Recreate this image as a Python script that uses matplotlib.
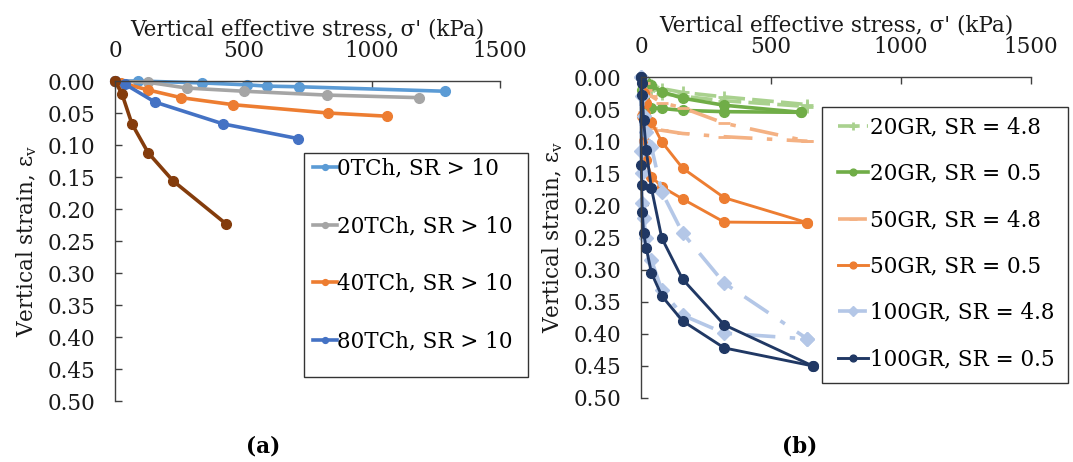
import matplotlib
matplotlib.use("Agg")
import matplotlib.pyplot as plt
from matplotlib.patches import Rectangle

# ---------------- data: panel (a) ----------------
a_labels = ["0TCh, SR > 10", "20TCh, SR > 10", "40TCh, SR > 10", "80TCh, SR > 10", "brown"]
a0_x = [0, 90, 339, 514, 592, 717, 1286]
a0_y = [0, 0.0, 0.003, 0.006, 0.008, 0.009, 0.016]
a20_x = [0, 129, 280, 503, 826, 1184]
a20_y = [0, 0.002, 0.011, 0.016, 0.022, 0.026]
a40_x = [0, 25, 129, 257, 460, 830, 1060]
a40_y = [0, 0.003, 0.014, 0.026, 0.037, 0.050, 0.055]
a80_x = [0, 39, 156, 421, 713]
a80_y = [0, 0.005, 0.033, 0.067, 0.090]
abr_x = [0, 27, 66, 129, 226, 432]
abr_y = [0, 0.020, 0.067, 0.112, 0.156, 0.223]

# ---------------- data: panel (b) ----------------
b_labels = ["20GR, SR = 4.8", "20GR, SR = 0.5", "50GR, SR = 4.8",
            "50GR, SR = 0.5", "100GR, SR = 4.8", "100GR, SR = 0.5"]
g20_48a_x = [0, 10, 20, 40, 80, 160, 320, 640]
g20_48a_y = [0, 0.005, 0.009, 0.013, 0.018, 0.024, 0.031, 0.043]
g20_48b_x = [0, 10, 20, 40, 80, 160, 320, 640]
g20_48b_y = [0, 0.010, 0.016, 0.020, 0.026, 0.030, 0.037, 0.046]
g20_05a_x = [0, 10, 20, 40, 80, 160, 320, 615]
g20_05a_y = [0, 0.004, 0.008, 0.013, 0.023, 0.033, 0.044, 0.055]
g20_05b_x = [0, 5, 10, 20, 40, 80, 160, 320, 615]
g20_05b_y = [0, 0.020, 0.035, 0.045, 0.048, 0.049, 0.052, 0.054, 0.055]
g50_48a_x = [0, 10, 20, 40, 80, 160, 320, 640]
g50_48a_y = [0, 0.010, 0.020, 0.030, 0.040, 0.048, 0.072, 0.100]
g50_48b_x = [0, 5, 10, 20, 40, 80, 160, 320, 640]
g50_48b_y = [0, 0.030, 0.055, 0.070, 0.080, 0.083, 0.088, 0.093, 0.100]
g50_05a_x = [0, 10, 20, 40, 80, 160, 320, 640]
g50_05a_y = [0, 0.025, 0.040, 0.070, 0.101, 0.142, 0.188, 0.227]
g50_05b_x = [0, 5, 10, 20, 40, 80, 160, 320, 640]
g50_05b_y = [0, 0.060, 0.100, 0.130, 0.155, 0.171, 0.190, 0.226, 0.227]
g100_48a_x = [0, 5, 10, 20, 40, 80, 160, 320, 640]
g100_48a_y = [0, 0.030, 0.060, 0.085, 0.109, 0.179, 0.243, 0.321, 0.408]
g100_48b_x = [0, 1.25, 2.5, 5, 10, 20, 40, 80, 160, 320, 640]
g100_48b_y = [0, 0.115, 0.150, 0.196, 0.220, 0.251, 0.285, 0.332, 0.371, 0.399, 0.408]
g100_05a_x = [0, 2.5, 5, 10, 20, 40, 80, 160, 320, 660]
g100_05a_y = [0, 0.009, 0.028, 0.067, 0.114, 0.173, 0.251, 0.315, 0.386, 0.450]
g100_05b_x = [0, 1.25, 2.5, 5, 10, 20, 40, 80, 160, 320, 660]
g100_05b_y = [0, 0.137, 0.168, 0.210, 0.243, 0.266, 0.305, 0.341, 0.380, 0.422, 0.450]

x_ticks = [0, 500, 1000, 1500]
y_ticks = [0.00, 0.05, 0.10, 0.15, 0.20, 0.25, 0.30, 0.35, 0.40, 0.45, 0.50]

plt.rcParams['font.family'] = ['DejaVu Serif']
FS = 15.5
W, H = 1073, 462
fig = plt.figure(figsize=(W / 100, H / 100), dpi=100)


def fx(px):
    return px / W


def fy(py):
    return 1 - py / H


def make_axes(l, r, t, b):
    ax = fig.add_axes([fx(l), fy(b), fx(r) - fx(l), fy(t) - fy(b)])
    ax.set_xlim(0, 1500)
    ax.set_ylim(0.5, 0.0)
    ax.set_xticks(x_ticks)
    ax.set_yticks(y_ticks)
    ax.set_yticklabels([f"{v:.2f}" for v in y_ticks])
    ax.xaxis.tick_top()
    ax.xaxis.set_label_position('top')
    for s in ['right', 'bottom']:
        ax.spines[s].set_visible(False)
    for s in ['left', 'top']:
        ax.spines[s].set_color('#404040')
        ax.spines[s].set_linewidth(1.0)
    ax.tick_params(axis='both', direction='in', length=5, width=1.0,
                   color='#404040', labelsize=FS, labelcolor='#1a1a1a')
    ax.tick_params(axis='x', pad=14)
    ax.tick_params(axis='y', pad=14)
    ax.set_xlabel("Vertical effective stress, σ' (kPa)", fontsize=FS, labelpad=3, color='#1a1a1a')
    ax.set_ylabel("Vertical strain, ε$_\\mathregular{v}$", fontsize=FS, labelpad=6, color='#1a1a1a')
    ax.patch.set_alpha(0)
    return ax


def frame(l, t, r, b):
    fig.patches.append(Rectangle((fx(l), fy(b)), fx(r) - fx(l), fy(t) - fy(b),
                                 transform=fig.transFigure, fill=True, facecolor='white',
                                 edgecolor='#333333', lw=1.0, zorder=5))


LW = 2.6
MS = 7

# ---------------- panel (a) ----------------
axa = make_axes(115, 500, 81, 401)
axa.plot(a0_x, a0_y, '-o', color='#5B9BD5', lw=LW, ms=MS, label=a_labels[0])
axa.plot(a20_x, a20_y, '-o', color='#A5A5A5', lw=LW, ms=MS, label=a_labels[1])
axa.plot(a40_x, a40_y, '-o', color='#ED7D31', lw=LW, ms=MS, label=a_labels[2])
axa.plot(a80_x, a80_y, '-o', color='#4472C4', lw=LW, ms=MS, label=a_labels[3])
axa.plot(abr_x, abr_y, '-o', color='#843C0C', lw=LW, ms=MS)
for l in axa.lines:
    l.set_clip_on(False)
frame(304, 153, 528, 377)
h, lab = axa.get_legend_handles_labels()
leg = fig.legend(h, lab, loc='upper left', bbox_to_anchor=(fx(305), fy(150)),
                 fontsize=FS, frameon=False,
                 handlelength=1.15, handletextpad=0.0, labelspacing=1.65,
                 borderpad=0.35, borderaxespad=0, markerscale=0.6)
leg.set_zorder(6)

# ---------------- panel (b) ----------------
axb = make_axes(641, 1031, 77, 398)
lg, dg, sa, og, lb, nv = '#A9D18E', '#70AD47', '#F4B183', '#ED7D31', '#B4C7E7', '#203864'
axb.plot(g20_48a_x, g20_48a_y, color=lg, ls=(0, (6, 2)), lw=LW, marker='+', ms=9, mew=2, label=b_labels[0])
axb.plot(g20_48b_x, g20_48b_y, color=lg, ls=(0, (6, 2)), lw=LW, marker='+', ms=9, mew=2)
axb.plot(g20_05a_x, g20_05a_y, color=dg, ls='-', lw=LW, marker='o', ms=MS, label=b_labels[1])
axb.plot(g20_05b_x, g20_05b_y, color=dg, ls='-', lw=LW, marker='o', ms=MS)
axb.plot(g50_48a_x, g50_48a_y, color=sa, ls=(0, (8, 4, 1.5, 4)), lw=LW, marker='_', ms=8, mew=2, label=b_labels[2])
axb.plot(g50_48b_x, g50_48b_y, color=sa, ls=(0, (8, 4, 1.5, 4)), lw=LW, marker='_', ms=8, mew=2)
axb.plot(g50_05a_x, g50_05a_y, color=og, ls='-', lw=LW * 0.8, marker='o', ms=MS, label=b_labels[3])
axb.plot(g50_05b_x, g50_05b_y, color=og, ls='-', lw=LW * 0.8, marker='o', ms=MS)
axb.plot(g100_48a_x, g100_48a_y, color=lb, ls=(0, (8, 4, 1.5, 4)), lw=LW, marker='D', ms=7, label=b_labels[4])
axb.plot(g100_48b_x, g100_48b_y, color=lb, ls=(0, (8, 4, 1.5, 4)), lw=LW, marker='D', ms=7)
axb.plot(g100_05a_x, g100_05a_y, color=nv, ls='-', lw=LW * 0.8, marker='o', ms=MS, label=b_labels[5])
axb.plot(g100_05b_x, g100_05b_y, color=nv, ls='-', lw=LW * 0.8, marker='o', ms=MS)
for l in axb.lines:
    l.set_clip_on(False)
frame(822, 107, 1068, 383)
h, lab = axb.get_legend_handles_labels()
legb = fig.legend(h, lab, loc='upper left', bbox_to_anchor=(fx(830), fy(109)),
                  fontsize=FS, frameon=False,
                  handlelength=1.4, handletextpad=0.1, labelspacing=1.13,
                  borderpad=0.35, borderaxespad=0, markerscale=0.7)
legb.set_zorder(6)

fig.text(fx(263), fy(447), "(a)", ha='center', va='center', fontsize=FS, fontweight='bold')
fig.text(fx(800), fy(447), "(b)", ha='center', va='center', fontsize=FS, fontweight='bold')

fig.savefig("out.png", dpi=100)
